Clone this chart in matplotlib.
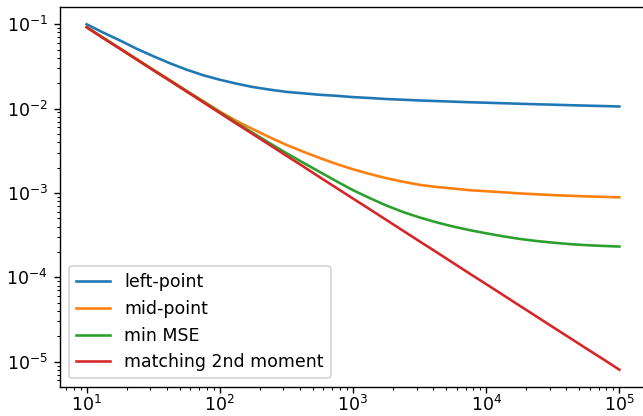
import matplotlib
matplotlib.use("Agg")
import matplotlib.pyplot as plt

# number of points n, eighth-decade steps from 10 to 1e5
n = [10, 13.3, 17.8, 23.7, 31.6, 42.2, 56.2, 75.0, 100, 133, 178, 237, 316,
     422, 562, 750, 1000, 1334, 1778, 2371, 3162, 4217, 5623, 7499, 10000,
     13335, 17783, 23714, 31623, 42170, 56234, 74989, 100000]

left_point = [0.100, 0.0798, 0.0643, 0.0513, 0.0419, 0.0345, 0.0290, 0.0249,
              0.0220, 0.0198, 0.0180, 0.0168, 0.0158, 0.0152, 0.0146, 0.0142,
              0.0137, 0.01337, 0.0130, 0.01276, 0.0125, 0.0123, 0.0121,
              0.01191, 0.01175, 0.01159, 0.01143, 0.01127, 0.01114, 0.01099,
              0.01086, 0.01074, 0.0106]
mid_point = [0.0927, 0.0693, 0.0519, 0.0388, 0.0290, 0.0218, 0.0163, 0.0123,
             0.00923, 0.00716, 0.00569, 0.00457, 0.00372, 0.00309, 0.00260,
             0.00221, 0.00191, 0.00168, 0.00150, 0.00136, 0.00125, 0.00118,
             0.00113, 0.00108, 0.00105, 0.00102, 0.000989, 0.000966,
             0.000944, 0.000927, 0.000912, 0.000900, 0.000889]
min_mse = [0.0925, 0.0689, 0.0514, 0.0384, 0.0287, 0.0215, 0.0161, 0.0121,
           0.00904, 0.00679, 0.00513, 0.00389, 0.00297, 0.00229, 0.00178,
           0.00138, 0.00108, 0.000871, 0.000711, 0.000596, 0.000513,
           0.000450, 0.000401, 0.000363, 0.000333, 0.000307, 0.000286,
           0.000270, 0.000258, 0.000248, 0.000241, 0.000236, 0.000232]
second_moment = [0.0920, 0.0687, 0.0513, 0.0383, 0.0286, 0.0214, 0.0160,
                 0.0119, 0.00889, 0.00664, 0.00496, 0.00371, 0.00277,
                 0.00207, 0.00154, 0.00115, 0.000859, 0.000643, 0.000480,
                 0.000358, 0.000267, 0.000200, 0.000149, 0.000111, 8.32e-05,
                 6.21e-05, 4.63e-05, 3.46e-05, 2.58e-05, 1.93e-05, 1.44e-05,
                 1.08e-05, 8.04e-06]

labels = ["left-point", "mid-point", "min MSE", "matching 2nd moment"]

fig = plt.figure(figsize=(643 / 125, 416 / 125), dpi=125)
ax = fig.add_axes([60 / 643, 29 / 416, 586 / 643, 380 / 416])

for ys, label in zip([left_point, mid_point, min_mse, second_moment], labels):
    ax.plot(n, ys, label=label)

ax.set_xscale("log")
ax.set_yscale("log")
# pull the x tick labels up so they stay inside the image
ax.tick_params(axis="x", pad=1.0)
ax.legend(loc="lower left")

fig.savefig("out.png", dpi=125)
